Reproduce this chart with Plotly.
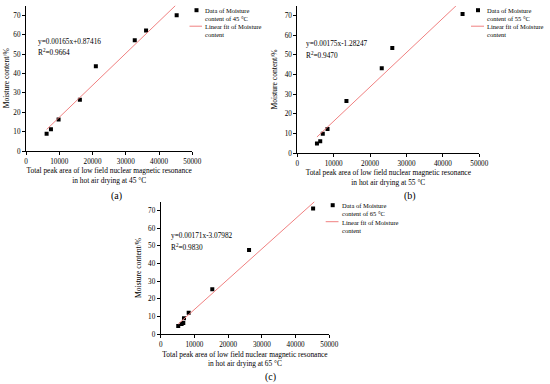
import plotly.graph_objects as go

# ---------------- data ----------------
temps = ["45", "55", "65"]
panel_labels = ["(a)", "(b)", "(c)"]

x_45 = [6200, 7500, 9800, 16200, 21000, 32700, 36100, 45300]
y_45 = [8.9, 11.2, 16.3, 26.5, 43.7, 57.1, 62.1, 70.0]
x_55 = [5400, 6300, 7000, 8300, 13500, 23200, 26100, 45400]
y_55 = [4.8, 6.0, 9.8, 12.2, 26.5, 43.2, 53.5, 70.9]
x_65 = [5200, 6200, 6700, 6900, 8300, 15300, 26200, 45200]
y_65 = [4.7, 5.8, 6.4, 9.0, 12.2, 25.4, 47.6, 71.1]

slopes = [0.00165, 0.00175, 0.00171]
intercepts = [0.87416, -1.28247, -3.07982]
eq_texts = ["y=0.00165x+0.87416", "y=0.00175x-1.28247", "y=0.00171x-3.07982"]
r2_texts = ["0.9664", "0.9470", "0.9830"]
fit_x_ranges = [[6200, 44900], [5400, 43600], [5200, 45600]]

x_ticks = [0, 10000, 20000, 30000, 40000, 50000]
x_tick_labels = ["0", "10000", "20000", "30000", "40000", "50000"]
y_ticks = [0, 10, 20, 30, 40, 50, 60, 70]
y_tick_labels = ["0", "10", "20", "30", "40", "50", "60", "70"]

xs = [x_45, x_55, x_65]
ys = [y_45, y_55, y_65]

# ---------------- layout geometry (pixels in 550x384) ----------------
W, H = 550, 384
FONT = "Liberation Serif"
FIT_COLOR = "#F08080"

# plot areas: (left, right, bottom, top) pixel
areas = [(26, 192.3, 151, 5.6), (297.3, 479.3, 153, 5.9), (160.7, 329.3, 334.3, 201.5)]
eq_pos = [(36, 41.7, 52.3), (304.3, 43.5, 55.2), (169.3, 235, 246.5)]
label_pos = [(116, 195.5), (410, 195.5), (270, 376.5)]
ytitle_standoff = [2, 6, 5]
# legend: (square x, y of first entry, text x, y of second entry)
legend_pos = [(196.5, 14.5, 203, 30.5), (478, 14.5, 485, 30.5), (332.7, 209.5, 339.5, 226)]

def px(x):
    return x / W

def py(y):
    return 1 - y / H

fig = go.Figure()
axis_common = dict(
    showline=True, linecolor="black", linewidth=1, ticks="outside", ticklen=3,
    tickwidth=1, tickcolor="black", showgrid=False, zeroline=False, mirror=False,
    tickfont=dict(family=FONT, size=7.2, color="black"), automargin=False,
)

for i in range(3):
    k = "" if i == 0 else str(i + 1)
    l, r, b, t = areas[i]
    fig.add_trace(go.Scatter(
        x=xs[i], y=ys[i], mode="markers", xaxis="x" + k, yaxis="y" + k,
        marker=dict(symbol="square", size=4, color="black"),
        name="Data of Moisture content of %s °C" % temps[i], showlegend=False,
    ))
    fx = fit_x_ranges[i]
    fy = [slopes[i] * v + intercepts[i] for v in fx]
    fig.add_trace(go.Scatter(
        x=fx, y=fy, mode="lines", xaxis="x" + k, yaxis="y" + k,
        line=dict(color=FIT_COLOR, width=1),
        name="Linear fit of Moisture content", showlegend=False,
    ))
    fig.update_layout({
        "xaxis" + k: dict(
            axis_common, domain=[px(l), px(r)], range=[0, 50000],
            tickmode="array", tickvals=x_ticks, ticktext=x_tick_labels,
            anchor="y" + k,
            title=dict(
                text="Total peak area of low field nuclear magnetic resonance<br>in hot air drying at %s °C" % temps[i],
                font=dict(family=FONT, size=7.4, color="black"), standoff=3),
        ),
        "yaxis" + k: dict(
            axis_common, domain=[py(b), py(t)], range=[0, 75],
            tickmode="array", tickvals=y_ticks, ticktext=y_tick_labels,
            anchor="x" + k,
            title=dict(text="Moisture content/%",
                       font=dict(family=FONT, size=7.6, color="black"),
                       standoff=ytitle_standoff[i]),
        ),
    })
    # equation text
    ex, ey1, ey2 = eq_pos[i]
    fig.add_annotation(x=px(ex), y=py(ey1), xref="paper", yref="paper", text=eq_texts[i],
                       showarrow=False, xanchor="left", yanchor="middle",
                       font=dict(family=FONT, size=7.3, color="black"))
    fig.add_annotation(x=px(ex), y=py(ey2), xref="paper", yref="paper",
                       text="R<sup>2</sup>=" + r2_texts[i],
                       showarrow=False, xanchor="left", yanchor="middle",
                       font=dict(family=FONT, size=7.3, color="black"))
    # panel label
    lx, ly = label_pos[i]
    fig.add_annotation(x=px(lx), y=py(ly), xref="paper", yref="paper", text=panel_labels[i],
                       showarrow=False, xanchor="center", yanchor="middle",
                       font=dict(family=FONT, size=10, color="black"))
    # legend (manual)
    sx, e1y, tx, e2y = legend_pos[i]
    sq_y = e1y - 4.3
    fig.add_shape(type="rect", xref="paper", yref="paper",
                  x0=px(sx - 2), x1=px(sx + 2), y0=py(sq_y + 2), y1=py(sq_y - 2),
                  fillcolor="black", line=dict(width=0))
    ln_y = e2y - 4.3
    fig.add_shape(type="line", xref="paper", yref="paper",
                  x0=px(sx - 7), x1=px(tx - 1), y0=py(ln_y), y1=py(ln_y),
                  line=dict(color=FIT_COLOR, width=1))
    fig.add_annotation(x=px(tx), y=py(e1y), xref="paper", yref="paper",
                       text="Data of Moisture<br>content of %s °C" % temps[i],
                       showarrow=False, xanchor="left", yanchor="middle", align="left",
                       font=dict(family=FONT, size=6.5, color="black"))
    fig.add_annotation(x=px(tx), y=py(e2y), xref="paper", yref="paper",
                       text="Linear fit of Moisture<br>content",
                       showarrow=False, xanchor="left", yanchor="middle", align="left",
                       font=dict(family=FONT, size=6.5, color="black"))

fig.update_layout(
    template="none",
    width=W, height=H, margin=dict(l=0, r=0, t=0, b=0),
    paper_bgcolor="white", plot_bgcolor="white", showlegend=False,
    font=dict(family=FONT, color="black"),
)

fig.write_html("out.html", config={"displayModeBar": False},
               post_script="document.body.style.margin='0';")
